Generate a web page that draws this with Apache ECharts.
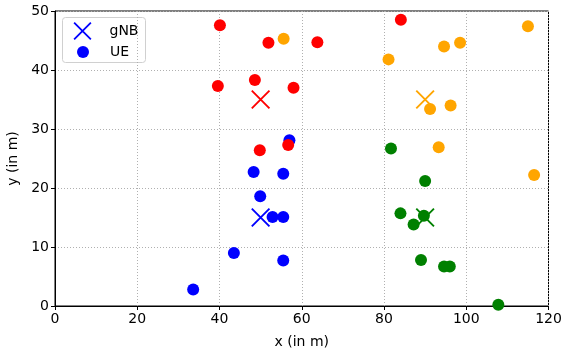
<!DOCTYPE html>
<html>
<head>
<meta charset="utf-8">
<script src="https://cdn.jsdelivr.net/npm/echarts@6/dist/echarts.min.js"></script>
<style>
  html, body { margin: 0; padding: 0; background: #fff; }
  #main { width: 562px; height: 349px; }
</style>
</head>
<body>
<div id="main"></div>
<script>
// cell colours, in draw order
var cellColors = ['#0000ff', '#ff0000', '#ffa500', '#008000'];

// gNB positions (one per cell)
var gnbX = [50, 50, 90, 90];
var gnbY = [15, 35, 35, 15];

// UE positions per cell
var blueUeX = [57.0, 48.3, 55.5, 49.9, 52.9, 55.5, 43.5, 55.5, 33.6];
var blueUeY = [28.1, 22.7, 22.4, 18.6, 15.1, 15.1, 9.0, 7.7, 2.8];
var redUeX = [40.1, 51.9, 63.8, 84.1, 39.6, 48.6, 58.0, 49.8, 56.7];
var redUeY = [47.6, 44.6, 44.7, 48.5, 37.3, 38.3, 37.0, 26.4, 27.3];
var orangeUeX = [55.6, 81.1, 94.6, 98.5, 115.0, 91.2, 96.2, 93.3, 116.5];
var orangeUeY = [45.3, 41.8, 44.0, 44.6, 47.4, 33.4, 34.0, 26.9, 22.2];
var greenUeX = [81.7, 90.0, 84.0, 89.7, 87.2, 89.0, 94.6, 96.0, 107.8];
var greenUeY = [26.7, 21.2, 15.7, 15.3, 13.8, 7.8, 6.7, 6.7, 0.2];

var ueX = [blueUeX, redUeX, orangeUeX, greenUeX];
var ueY = [blueUeY, redUeY, orangeUeY, greenUeY];

// axis ticks
var xTicks = [0, 20, 40, 60, 80, 100, 120];
var yTicks = [0, 10, 20, 30, 40, 50];

var crossPath = 'path://M0,7L7,0L100,93L93,100Z M93,0L100,7L7,100L0,93Z';
var font = 'DejaVu Sans';

function pairs(xs, ys) {
    return xs.map(function (x, i) { return [x, ys[i]]; });
}

var series = [];
cellColors.forEach(function (c, i) {
    series.push({
        name: i === 0 ? 'gNB' : 'gNB' + i,
        type: 'scatter',
        symbol: crossPath,
        symbolSize: 19,
        itemStyle: { color: c, opacity: 1 },
        data: [[gnbX[i], gnbY[i]]],
        z: 2 + i * 2
    });
    series.push({
        name: i === 0 ? 'UE' : 'UE' + i,
        type: 'scatter',
        symbol: 'circle',
        symbolSize: 12,
        itemStyle: { color: c, opacity: 1 },
        data: pairs(ueX[i], ueY[i]),
        z: 3 + i * 2
    });
});

var myChart = echarts.init(document.getElementById('main'));
var option = {
    animation: false,
    backgroundColor: '#fff',
    grid: {
        left: 55, right: 13.5, top: 11, bottom: 43,
        outerBoundsMode: 'none', containLabel: false,
        show: true, borderColor: '#000', borderWidth: 1, backgroundColor: 'transparent'
    },
    xAxis: {
        type: 'value', min: 0, max: 120, interval: 20,
        name: 'x (in m)', nameLocation: 'middle', nameGap: 29,
        nameTextStyle: { fontFamily: font, fontSize: 14, color: '#000' },
        axisLine: { show: true, lineStyle: { color: '#000', width: 1 } },
        axisTick: { show: true, length: 4, lineStyle: { color: '#000' } },
        axisLabel: { fontFamily: font, fontSize: 14, color: '#000', margin: 6,
            formatter: function (v) { return xTicks.indexOf(v) >= 0 ? String(v) : ''; } },
        splitLine: { show: true, lineStyle: { color: '#b0b0b0', type: [1, 2], width: 1 } }
    },
    yAxis: {
        type: 'value', min: 0, max: 50, interval: 10,
        name: 'y (in m)', nameLocation: 'middle', nameGap: 35,
        nameTextStyle: { fontFamily: font, fontSize: 14, color: '#000' },
        axisLine: { show: true, lineStyle: { color: '#000', width: 1 } },
        axisTick: { show: true, length: 4, lineStyle: { color: '#000' } },
        axisLabel: { fontFamily: font, fontSize: 14, color: '#000', margin: 6,
            formatter: function (v) { return yTicks.indexOf(v) >= 0 ? String(v) : ''; } },
        splitLine: { show: true, lineStyle: { color: '#b0b0b0', type: [1, 2], width: 1 } }
    },
    legend: [{
        data: ['gNB'], orient: 'vertical', left: 73.5, top: 22,
        itemWidth: 18, itemHeight: 18, padding: 0,
        textStyle: { fontFamily: font, fontSize: 14, color: '#000', padding: [0, 0, 0, 13] }
    }, {
        data: ['UE'], orient: 'vertical', left: 77, top: 45,
        itemWidth: 12, itemHeight: 12, padding: 0,
        textStyle: { fontFamily: font, fontSize: 14, color: '#000', padding: [0, 0, 0, 16] }
    }],
    graphic: [{
        type: 'rect', left: 62, top: 17, z: 0,
        shape: { width: 83, height: 45, r: 3 },
        style: { fill: 'rgba(255,255,255,0.8)', stroke: '#d0d0d0', lineWidth: 1 }
    }],
    series: series
};
myChart.setOption(option);
</script>
</body>
</html>
